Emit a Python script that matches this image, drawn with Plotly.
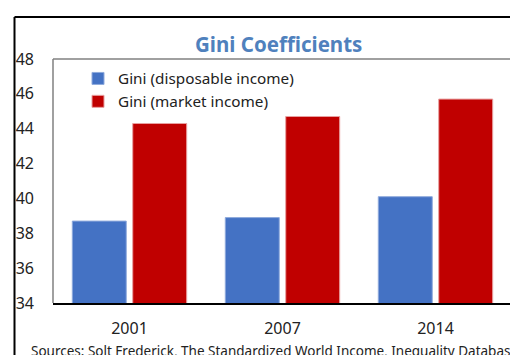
import plotly.graph_objects as go

# Survey years and Gini values (points)
years = ["2001", "2007", "2014"]
gini_disposable = [38.7, 38.9, 40.1]
gini_market = [44.3, 44.7, 45.7]
y_ticks = [34, 36, 38, 40, 42, 44, 46, 48]

FONT = "Noto Sans, Open Sans, sans-serif"
W, H = 510, 355
L, T, B = 53, 59, 52
plot_w = W - L
plot_h = H - T - B


def px_x(px):
    return (px - L) / plot_w


def px_y(py):
    return (H - B - py) / plot_h


fig = go.Figure()
fig.add_trace(go.Bar(
    x=years, y=gini_disposable, name="Gini (disposable income)",
    marker=dict(color="#4472C4", line=dict(width=1, color="#8FAADC")),
))
fig.add_trace(go.Bar(
    x=years, y=gini_market, name="Gini (market income)",
    marker=dict(color="#C00000", line=dict(width=1, color="#E8A0A0")),
))

shapes = [
    # plot frame (grey) on left and top
    dict(type="line", xref="paper", yref="paper", x0=0, x1=0, y0=0, y1=1,
         line=dict(color="#808080", width=1.5)),
    dict(type="line", xref="paper", yref="paper", x0=0, x1=1.01, y0=1, y1=1,
         line=dict(color="#808080", width=1.5)),
    # outer chart border
    dict(type="line", xref="paper", yref="paper", x0=px_x(14.5), x1=px_x(14.5),
         y0=px_y(17), y1=px_y(360), line=dict(color="#000000", width=2)),
    dict(type="line", xref="paper", yref="paper", x0=px_x(14.5), x1=px_x(515),
         y0=px_y(17), y1=px_y(17), line=dict(color="#000000", width=2)),
]

annotations = [
    dict(text="<b>Gini Coefficients</b>", xref="paper", yref="paper",
         x=px_x(278), y=px_y(44), xanchor="center", yanchor="middle",
         showarrow=False, font=dict(family=FONT, size=20.5, color="#4F81BD")),
    dict(text="Sources: Solt Frederick, The Standardized World Income, Inequality Database",
         xref="paper", yref="paper", x=px_x(29), y=px_y(351),
         xanchor="left", yanchor="middle", showarrow=False,
         font=dict(family=FONT, size=13.5, color="#222222")),
]

fig.update_layout(
    width=W, height=H,
    margin=dict(l=L, r=0, t=T, b=B, pad=0),
    paper_bgcolor="white", plot_bgcolor="white",
    barmode="group", bargap=0.21, bargroupgap=0.107,
    font=dict(family=FONT, size=15.3, color="#222222"),
    showlegend=True,
    legend=dict(x=px_x(78), y=px_y(62), xanchor="left", yanchor="top",
                bgcolor="rgba(0,0,0,0)", font=dict(family=FONT, size=15.3, color="#222222"),
                itemwidth=30, tracegroupgap=0),
    shapes=shapes,
    annotations=annotations,
)
fig.update_xaxes(
    range=[-0.5, 2.487], showgrid=False, showline=True, linecolor="#000000",
    linewidth=1.5, ticks="", ticklabelstandoff=10, tickfont=dict(size=16),
)
fig.update_yaxes(
    range=[34, 48], tickvals=y_ticks, showgrid=False, zeroline=False,
    showline=False, ticks="", ticklabelstandoff=18, tickfont=dict(size=16),
)

fig.write_html("out.html")
